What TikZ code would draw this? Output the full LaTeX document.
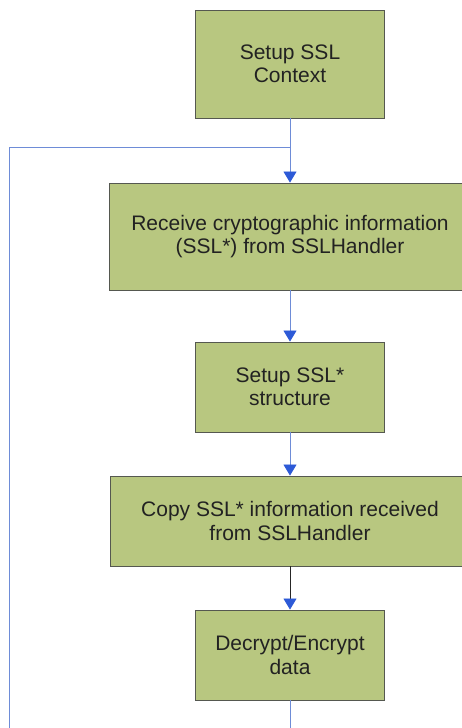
\documentclass[tikz,border=0pt]{standalone}
\usepackage{fontspec}
\setmainfont{Liberation Sans}
\usetikzlibrary{arrows.meta}
\definecolor{boxfill}{RGB}{184,199,128}
\definecolor{boxedge}{RGB}{85,88,80}
\definecolor{flowline}{RGB}{110,140,215}
\definecolor{tipblue}{RGB}{45,90,215}
\definecolor{inktext}{RGB}{34,34,34}
\tikzset{
  stepbox/.style={draw=boxedge, line width=0.9pt, fill=boxfill, align=center,
    text=inktext, font=\fontsize{21}{23.5}\selectfont, inner sep=0pt},
  flow/.style={draw=flowline, line width=0.8pt,
    -{Triangle[width=13pt,length=11pt,color=tipblue]}},
  plainline/.style={draw=flowline, line width=0.8pt},
}
\begin{document}
\begin{tikzpicture}[x=1pt,y=-1pt]
  \useasboundingbox (0,0) rectangle (462,728);
  \fill[white] (0,0) rectangle (462,728);
  \clip (0,0) rectangle (462,728);

  \node[stepbox, minimum width=189pt, minimum height=108pt] (ctx) at (290,64)
    {Setup SSL\\Context};
  \node[stepbox, minimum width=361pt, minimum height=107pt] (recv) at (290,236.5)
    {Receive cryptographic information\\(SSL*) from SSLHandler};
  \node[stepbox, minimum width=189pt, minimum height=90pt] (setup) at (290,387)
    {Setup SSL*\\structure};
  \node[stepbox, minimum width=359pt, minimum height=90pt] (copy) at (290,521)
    {Copy SSL* information received\\from SSLHandler};
  \node[stepbox, minimum width=189pt, minimum height=90pt] (crypt) at (290,655)
    {Decrypt/Encrypt\\data};

  \coordinate (join) at (290,147);
  \coordinate (loopcorner) at (9,147);
  \coordinate (loopbottom) at (9,728);
  \coordinate (tail) at (290,728);

  \draw[plainline] (ctx.south) -- (join);
  \draw[flow] (join) -- (recv.north);
  \draw[plainline] (loopbottom) -- (loopcorner) -- (join);
  \draw[flow] (recv.south) -- (setup.north);
  \draw[flow] (setup.south) -- (copy.north);
  \draw[flow, draw=black!85] (copy.south) -- (crypt.north);
  \draw[plainline] (crypt.south) -- (tail);
\end{tikzpicture}
\end{document}
